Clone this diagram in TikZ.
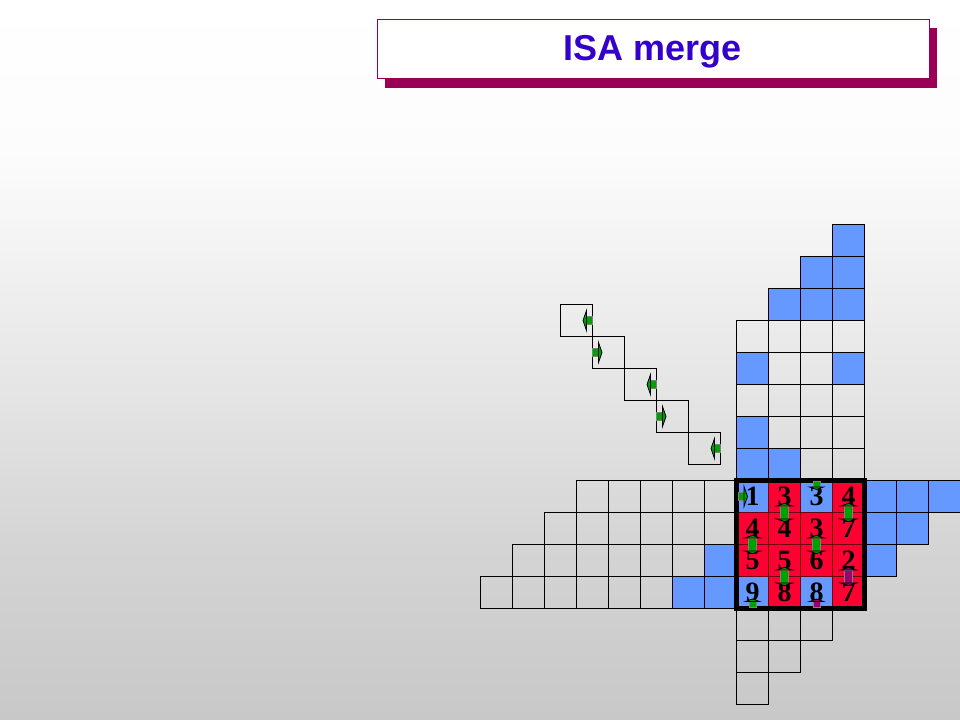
\documentclass[tikz,border=0pt]{standalone}
\usepackage{fontspec}
\setmainfont{Liberation Serif}
\newfontfamily\titlefont{Liberation Sans}
\definecolor{cellblue}{RGB}{102,153,255}
\definecolor{cellred}{RGB}{255,0,51}
\definecolor{innerline}{RGB}{110,0,20}
\definecolor{mkgreen}{RGB}{0,160,0}
\definecolor{mkmag}{RGB}{160,0,110}
\definecolor{titlecol}{RGB}{51,0,204}
\definecolor{shadowcol}{RGB}{153,0,85}
\definecolor{bgA}{RGB}{200,200,200}
\definecolor{bgB}{RGB}{212,212,212}
\definecolor{bgC}{RGB}{230,230,230}
\definecolor{bgD}{RGB}{252,252,252}
\pgfdeclareverticalshading{bgshade}{100bp}{color(0bp)=(bgA); color(25bp)=(bgA); color(37bp)=(bgB); color(48.6bp)=(bgC); color(64.5bp)=(bgD); color(75bp)=(white); color(100bp)=(white)}
\newcommand\gcell[3]{\filldraw[fill=#3, draw=black, line width=1pt] ({736.5+32*(#1)},{480.5+32*(#2)}) rectangle ++(32,32);}
\newcommand\bcell[3]{\filldraw[fill=#3, draw=innerline, line width=0.8pt] ({736.5+32*(#1)},{480.5+32*(#2)}) rectangle ++(32,32);}
\newcommand\harr[4]{%
  \begin{scope}[shift={(#1,#2)}, xscale=#3]
    \filldraw[fill=#4, draw=black!50, line width=0.3pt] (0,-4) rectangle (6,4);
    \filldraw[fill=#4, draw=black, line width=0.6pt] (6,-10) -- (9.5,0) -- (6,10) -- cycle;
  \end{scope}}
\newcommand\varr[3]{%
  \begin{scope}[shift={(#1,#2)}]
    \filldraw[fill=#3, draw=black!50, line width=0.3pt] (-4,-6.5) rectangle (4,6.5);
    \filldraw[fill=#3, draw=black, line width=0.6pt] (-8,-6.5) -- (0,-9) -- (8,-6.5) -- cycle;
    \filldraw[fill=#3, draw=black, line width=0.6pt] (-8,6.5) -- (0,9) -- (8,6.5) -- cycle;
  \end{scope}}
\newcommand\sarr[4]{%
  \begin{scope}[shift={(#1,#2)}, yscale=#3]
    \filldraw[fill=#4, draw=black!50, line width=0.3pt] (-3.5,0) rectangle (3.5,6);
    \filldraw[fill=#4, draw=black, line width=0.6pt] (-7,6) -- (0,8.5) -- (7,6) -- cycle;
  \end{scope}}
\begin{document}
\begin{tikzpicture}[x=0.75pt,y=-0.75pt,
  digit/.style={font=\bfseries\fontsize{21}{24}\selectfont, text=black, inner sep=0pt, anchor=base}]
\useasboundingbox (0,0) rectangle (960,720);
\shade[shading=bgshade] (0,0) rectangle (960,720);
% title
\fill[shadowcol] (385,28) rectangle (937,88);
\filldraw[fill=white, draw=shadowcol, line width=0.75pt] (377,20) rectangle (929,79);
\node[font=\titlefont\bfseries\fontsize{27}{30}\selectfont, text=titlecol, anchor=base, inner sep=0pt] (title) at (653,61) {ISA merge};
% staircase
\foreach \k in {0,...,4}
  \draw[line width=1pt] ({560.5+32*\k},{304.5+32*\k}) rectangle ++(32,32);
\harr{592.5}{320.5}{-1}{mkgreen}
\harr{592.5}{352.5}{1}{mkgreen}
\harr{656.5}{384.5}{-1}{mkgreen}
\harr{656.5}{416.5}{1}{mkgreen}
\harr{720.5}{448.5}{-1}{mkgreen}
% upper column
\foreach \c/\r/\f in {3/-8/cellblue, 2/-7/cellblue, 3/-7/cellblue,
  1/-6/cellblue, 2/-6/cellblue, 3/-6/cellblue,
  0/-5/none, 1/-5/none, 2/-5/none, 3/-5/none,
  0/-4/cellblue, 1/-4/none, 2/-4/none, 3/-4/cellblue,
  0/-3/none, 1/-3/none, 2/-3/none, 3/-3/none,
  0/-2/cellblue, 1/-2/none, 2/-2/none, 3/-2/none,
  0/-1/cellblue, 1/-1/cellblue, 2/-1/none, 3/-1/none}
  {\gcell{\c}{\r}{\f}}
% left rows
\foreach \c in {-5,...,-1} {\gcell{\c}{0}{none}}
\foreach \c in {-6,...,-1} {\gcell{\c}{1}{none}}
\foreach \c in {-7,...,-2} {\gcell{\c}{2}{none}}
\gcell{-1}{2}{cellblue}
\foreach \c in {-8,...,-3} {\gcell{\c}{3}{none}}
\gcell{-2}{3}{cellblue}
\gcell{-1}{3}{cellblue}
% right rows
\foreach \c in {4,5,6} {\gcell{\c}{0}{cellblue}}
\foreach \c in {4,5} {\gcell{\c}{1}{cellblue}}
\gcell{4}{2}{cellblue}
% bottom
\foreach \c in {0,1,2} {\gcell{\c}{4}{none}}
\foreach \c in {0,1} {\gcell{\c}{5}{none}}
\gcell{0}{6}{none}
% main block
\foreach \c/\r/\f in {0/0/cellblue, 1/0/cellred, 2/0/cellblue, 3/0/cellred,
  0/1/cellred, 1/1/cellred, 2/1/cellred, 3/1/cellred,
  0/2/cellred, 1/2/cellred, 2/2/cellred, 3/2/cellred,
  0/3/cellblue, 1/3/cellred, 2/3/cellblue, 3/3/cellred}
  {\bcell{\c}{\r}{\f}}
% digits
\node[digit] (n00) at (752.5,505.5) {1};
\node[digit] (n01) at (784.5,505.5) {3};
\node[digit] (n02) at (816.5,505.5) {3};
\node[digit] (n03) at (848.5,505.5) {4};
\node[digit] (n10) at (752.5,537.5) {4};
\node[digit] (n11) at (784.5,537.5) {4};
\node[digit] (n12) at (816.5,537.5) {3};
\node[digit] (n13) at (848.5,537.5) {7};
\node[digit] (n20) at (752.5,569.5) {5};
\node[digit] (n21) at (784.5,569.5) {5};
\node[digit] (n22) at (816.5,569.5) {6};
\node[digit] (n23) at (848.5,569.5) {2};
\node[digit] (n30) at (752.5,601.5) {9};
\node[digit] (n31) at (784.5,601.5) {8};
\node[digit] (n32) at (816.5,601.5) {8};
\node[digit] (n33) at (848.5,601.5) {7};
% thick border
\draw[line width=4.1pt] (736.5,480.5) rectangle (864.5,608.5);
% markers
\harr{738}{496.5}{1}{mkgreen}
\sarr{816.5}{481}{1}{mkgreen}
\varr{784.5}{512.5}{mkgreen}
\varr{848.5}{512.5}{mkgreen}
\varr{752.5}{544.5}{mkgreen}
\varr{816.5}{544.5}{mkgreen}
\varr{784.5}{576.5}{mkgreen}
\varr{848.5}{576.5}{mkmag}
\sarr{752.5}{607.5}{-1}{mkgreen}
\sarr{816.5}{607.5}{-1}{mkmag}
\end{tikzpicture}
\end{document}
